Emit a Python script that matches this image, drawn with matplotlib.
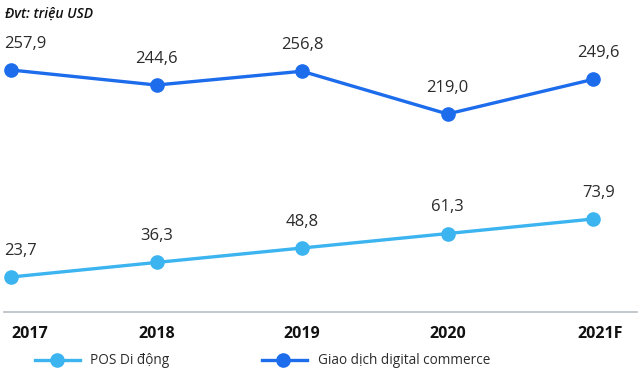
import matplotlib
matplotlib.use("Agg")
import matplotlib.pyplot as plt
import matplotlib.transforms as mtransforms
from matplotlib.lines import Line2D

years = ["2017", "2018", "2019", "2020", "2021F"]
pos_di_dong = [23.7, 36.3, 48.8, 61.3, 73.9]
digital_commerce = [257.9, 244.6, 256.8, 219.0, 249.6]

LIGHT = "#3cb4f0"
DARK = "#1c6cec"
TEXT = "#2b2b2b"

plt.rcParams["font.family"] = ["Open Sans", "DejaVu Sans"]

W, H = 640, 379
fig = plt.figure(figsize=(W / 100, H / 100), dpi=100)

# axes spans from x of first point to x of last point, top of image down to the baseline
x0, x1 = 11, 593
base = 312
ax = fig.add_axes([x0 / W, (H - base) / H, (x1 - x0) / W, base / H])
ax2 = ax.twinx()

xs = list(range(len(years)))
ax.set_xlim(0, len(years) - 1)
ax.set_ylim(-6.6, 263.5)
ax2.set_ylim(43.9, 319.8)

ax.plot(xs, pos_di_dong, color=LIGHT, lw=2.4, marker="o", ms=9.5, clip_on=False, zorder=3)
ax2.plot(xs, digital_commerce, color=DARK, lw=2.4, marker="o", ms=9.5, clip_on=False, zorder=3)


def label(a, vals):
    for i, v in enumerate(vals):
        txt = f"{v:.1f}".replace(".", ",")
        ha = "center"
        dx = 0
        if i == 0:
            ha, dx = "left", -5
        elif i == len(vals) - 1:
            dx = 4
        a.annotate(txt, (i, v), xytext=(dx, 19), textcoords="offset points",
                   ha=ha, va="center", fontsize=12, color=TEXT)


label(ax, pos_di_dong)
label(ax2, digital_commerce)

for a in (ax, ax2):
    for s in a.spines.values():
        s.set_visible(False)
    a.set_yticks([])
    a.tick_params(length=0)

ax.set_xticks(xs)
ax.set_xticklabels(years, fontsize=11.5, fontweight="bold", color="#111111")
ax.tick_params(axis="x", pad=10)
tl = ax.get_xticklabels()
tl[0].set_horizontalalignment("left")
shift = mtransforms.ScaledTranslation(7 / 100, 0, fig.dpi_scale_trans)
tl[-1].set_transform(tl[-1].get_transform() + shift)

# baseline
fig.add_artist(Line2D([4 / W, 637 / W], [(H - base) / H] * 2, color="#b8bec4", lw=1.2))

fig.text(5 / W, 1 - 14 / H, "Đvt: triệu USD", fontsize=10, style="italic",
         fontweight="semibold", color="#111111", va="center")

# legend
ly = 1 - 360 / H
for (xa, xb, xm, xt, c, name) in [(35, 80, 57, 90, LIGHT, "POS Di động"),
                                  (262, 307, 283, 318, DARK, "Giao dịch digital commerce")]:
    fig.add_artist(Line2D([xa / W, xb / W], [ly, ly], color=c, lw=2.4))
    fig.add_artist(Line2D([xm / W], [ly], color=c, marker="o", ms=9.5, lw=0))
    fig.text(xt / W, ly, name, fontsize=9.8, color=TEXT, va="center")

fig.savefig("out.png", dpi=100)
